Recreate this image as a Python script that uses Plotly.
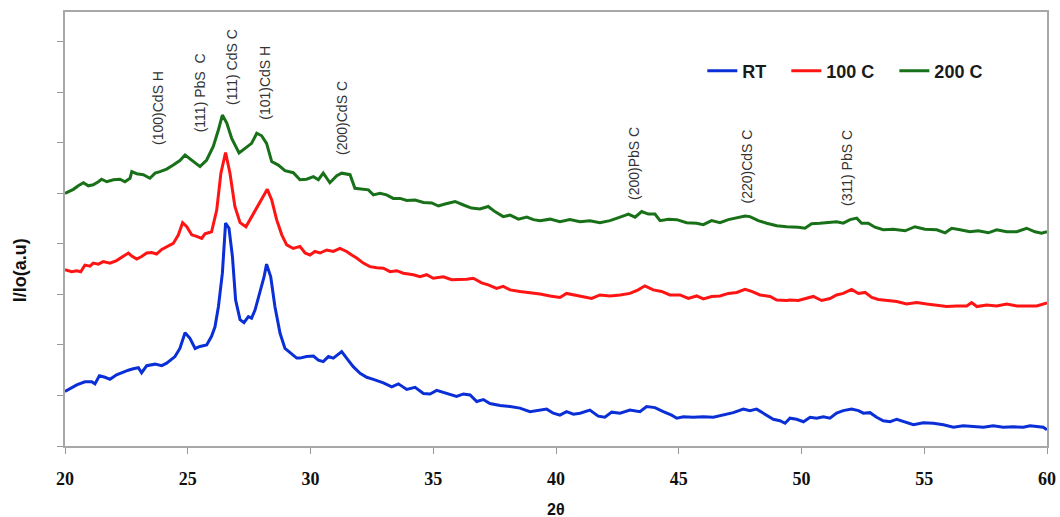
import plotly.graph_objects as go

# ---- data (2θ in degrees, intensity in offset arbitrary units) ----
rt_x = [20.0, 20.48, 20.81, 21.09, 21.22, 21.40, 21.63, 21.83, 22.10, 22.38, 22.58, 22.78, 22.99,
        23.12, 23.33, 23.67, 23.94, 24.14, 24.48, 24.68, 24.89, 25.09, 25.30, 25.50, 25.77, 25.97,
        26.11, 26.25, 26.41, 26.54, 26.68, 26.82, 26.95, 27.13, 27.29, 27.47, 27.60, 27.74, 27.94,
        28.11, 28.21, 28.38, 28.55, 28.76, 28.96, 29.23, 29.44,
        29.57, 29.84, 30.12, 30.32, 30.52, 30.73, 30.93, 31.13, 31.27, 31.47, 31.74, 32.02, 32.29,
        32.56, 32.97, 33.31, 33.58, 33.92, 34.26, 34.60, 34.87, 35.14, 35.55, 35.95, 36.23, 36.50,
        36.77, 37.04, 37.31, 37.72, 38.13, 38.53, 38.94, 39.21,
        39.35, 39.62, 39.89, 40.16, 40.43, 40.71, 40.98, 41.38, 41.72, 41.99, 42.27, 42.61, 43.01,
        43.42, 43.69, 44.03, 44.37, 44.71, 44.92, 45.19, 45.59, 46.00, 46.41, 46.82, 47.22, 47.63,
        47.90, 48.17, 48.45, 48.85, 49.12, 49.33,
        49.53, 49.80, 50.08, 50.35, 50.62, 50.89, 51.16, 51.43, 51.70, 52.04, 52.32, 52.52, 52.79,
        53.06, 53.33, 53.61, 53.88, 54.22, 54.56, 54.96, 55.37, 55.78, 56.19, 56.59, 57.00, 57.41,
        57.81, 58.22, 58.63, 59.04, 59.31, 59.65, 59.85, 60.0]
rt_y = [1.08, 1.21, 1.27, 1.27, 1.23, 1.39, 1.36, 1.32, 1.41, 1.47, 1.50, 1.53, 1.55,
        1.45, 1.59, 1.62, 1.59, 1.64, 1.77, 1.93, 2.24, 2.13, 1.93, 1.97, 2.00, 2.17,
        2.36, 2.76, 3.42, 4.41, 4.31, 3.75, 2.89, 2.50, 2.44, 2.56, 2.53, 2.69, 3.06,
        3.35, 3.60, 3.35, 2.76, 2.23, 1.93, 1.83, 1.74,
        1.74, 1.77, 1.78, 1.70, 1.67, 1.77, 1.74, 1.82, 1.87, 1.74, 1.57, 1.44, 1.36,
        1.32, 1.25, 1.17, 1.23, 1.12, 1.16, 1.04, 1.03, 1.10, 1.04, 0.98, 1.03, 1.01,
        0.88, 0.92, 0.84, 0.80, 0.78, 0.75, 0.68, 0.70,
        0.71, 0.73, 0.65, 0.61, 0.68, 0.63, 0.65, 0.71, 0.59, 0.57, 0.67, 0.65, 0.71,
        0.68, 0.78, 0.76, 0.68, 0.61, 0.55, 0.58, 0.57, 0.58, 0.57, 0.61, 0.66, 0.73,
        0.70, 0.73, 0.65, 0.53, 0.50, 0.45,
        0.55, 0.53, 0.48, 0.57, 0.55, 0.58, 0.55, 0.65, 0.70, 0.73, 0.70, 0.65, 0.66,
        0.57, 0.50, 0.48, 0.53, 0.48, 0.42, 0.46, 0.45, 0.42, 0.37, 0.40, 0.38, 0.37,
        0.40, 0.37, 0.38, 0.37, 0.40, 0.38, 0.37, 0.32]

c100_x = [20.0, 20.27, 20.48, 20.64, 20.81, 21.02, 21.15, 21.36, 21.56, 21.83, 22.10, 22.38, 22.58,
          22.72, 22.92, 23.12, 23.33, 23.53, 23.73, 23.94, 24.21, 24.41, 24.62, 24.79, 24.96, 25.16,
          25.36, 25.57, 25.70, 25.97, 26.18, 26.35, 26.54, 26.72, 26.92, 27.13, 27.37, 27.60, 27.88,
          28.08, 28.24, 28.42, 28.62, 28.83, 29.03, 29.30,
          29.57, 29.78, 29.98, 30.18, 30.39, 30.66, 30.93, 31.20, 31.47, 31.68, 31.88, 32.15, 32.42,
          32.70, 32.97, 33.24, 33.51, 33.78, 34.19, 34.46, 34.73, 35.00, 35.41, 35.75, 36.09, 36.36,
          36.63, 36.97, 37.24, 37.58, 37.85, 38.13, 38.53, 38.94,
          39.35, 39.76, 40.16, 40.43, 40.71, 41.11, 41.45, 41.79, 42.20, 42.61, 43.01, 43.35, 43.62,
          43.96, 44.30, 44.64, 45.05, 45.39, 45.73, 46.00, 46.34, 46.68, 47.02, 47.36, 47.70, 47.97,
          48.31, 48.72, 48.99, 49.40,
          49.53, 49.87, 50.14, 50.48, 50.82, 51.16, 51.43, 51.70, 52.04, 52.32, 52.59, 52.86, 53.13,
          53.47, 53.88, 54.28, 54.69, 55.10, 55.51, 55.91, 56.32, 56.73, 56.93, 57.14, 57.54, 57.95,
          58.36, 58.77, 59.17, 59.58, 60.0]
c100_y = [3.49, 3.45, 3.47, 3.45, 3.58, 3.56, 3.62, 3.60, 3.65, 3.62, 3.67, 3.75, 3.82,
          3.76, 3.70, 3.75, 3.82, 3.83, 3.80, 3.89, 3.95, 4.01, 4.18, 4.42, 4.34, 4.18,
          4.15, 4.11, 4.20, 4.24, 4.67, 5.40, 5.81, 5.40, 4.74, 4.42, 4.34, 4.54, 4.77,
          4.97, 5.08, 4.87, 4.48, 4.18, 3.98, 3.91,
          3.95, 3.82, 3.78, 3.85, 3.82, 3.88, 3.85, 3.91, 3.85, 3.78, 3.72, 3.62, 3.55,
          3.53, 3.52, 3.45, 3.47, 3.42, 3.39, 3.35, 3.39, 3.32, 3.35, 3.29, 3.29, 3.30,
          3.32, 3.23, 3.19, 3.12, 3.16, 3.09, 3.06, 3.04,
          3.01, 2.97, 2.94, 3.02, 2.99, 2.96, 2.92, 2.99, 2.97, 2.99, 3.02, 3.09, 3.17,
          3.09, 3.06, 2.99, 2.99, 2.92, 2.97, 2.91, 2.96, 2.97, 3.02, 3.04, 3.10, 3.06,
          2.99, 2.96, 2.89, 2.88,
          2.89, 2.88, 2.92, 2.96, 2.88, 2.92, 2.99, 3.02, 3.10, 3.02, 3.04, 2.94, 2.90,
          2.88, 2.86, 2.81, 2.84, 2.81, 2.79, 2.76, 2.77, 2.77, 2.84, 2.76, 2.79, 2.77,
          2.81, 2.77, 2.77, 2.77, 2.83]

c200_x = [20.0, 20.34, 20.54, 20.75, 20.95, 21.15, 21.36, 21.49, 21.70, 21.97, 22.24, 22.44, 22.65,
          22.72, 22.92, 23.19, 23.46, 23.67, 23.87, 24.14, 24.41, 24.68, 24.89, 25.16, 25.50, 25.77,
          26.04, 26.25, 26.41, 26.59, 26.79, 27.09, 27.33, 27.60, 27.81, 28.01, 28.21, 28.42, 28.69,
          28.96, 29.30,
          29.57, 29.84, 30.12, 30.32, 30.52, 30.79, 31.07, 31.27, 31.61, 31.81, 32.08, 32.36, 32.56,
          32.83, 33.10, 33.37, 33.65, 33.92, 34.26, 34.60, 34.94, 35.21, 35.48, 35.89, 36.23, 36.56,
          36.90, 37.24, 37.51, 37.85, 38.13, 38.47, 38.81, 39.08,
          39.35, 39.76, 40.16, 40.57, 40.98, 41.38, 41.79, 42.20, 42.61, 42.95, 43.22, 43.49, 43.76,
          44.03, 44.24, 44.58, 44.92, 45.32, 45.73, 46.00, 46.34, 46.68, 47.02, 47.36, 47.70, 47.90,
          48.24, 48.58, 48.99, 49.40,
          49.53, 49.87, 50.14, 50.41, 50.75, 51.09, 51.43, 51.70, 51.98, 52.25, 52.45, 52.72, 52.99,
          53.33, 53.74, 54.22, 54.62, 55.03, 55.51, 55.85, 56.12, 56.46, 56.86, 57.20, 57.61, 57.95,
          58.36, 58.77, 59.17, 59.51, 59.78, 60.0]
c200_y = [5.00, 5.08, 5.15, 5.21, 5.15, 5.17, 5.23, 5.28, 5.23, 5.27, 5.28, 5.23, 5.30,
          5.43, 5.39, 5.37, 5.30, 5.40, 5.43, 5.48, 5.56, 5.65, 5.76, 5.66, 5.53, 5.66,
          5.93, 6.26, 6.55, 6.39, 6.09, 5.80, 5.89, 5.99, 6.19, 6.14, 5.99, 5.63, 5.56,
          5.45, 5.41,
          5.27, 5.28, 5.33, 5.27, 5.40, 5.21, 5.35, 5.40, 5.37, 5.10, 5.08, 5.07, 4.97,
          5.00, 4.97, 4.90, 4.90, 4.86, 4.87, 4.82, 4.81, 4.75, 4.79, 4.84, 4.77, 4.71,
          4.69, 4.74, 4.64, 4.54, 4.57, 4.49, 4.53, 4.48,
          4.46, 4.49, 4.44, 4.48, 4.44, 4.46, 4.42, 4.46, 4.53, 4.59, 4.53, 4.64, 4.59,
          4.59, 4.46, 4.49, 4.48, 4.42, 4.41, 4.38, 4.46, 4.42, 4.48, 4.51, 4.55, 4.54,
          4.46, 4.41, 4.36, 4.34,
          4.34, 4.33, 4.31, 4.40, 4.41, 4.42, 4.44, 4.41, 4.48, 4.51, 4.41, 4.41, 4.33,
          4.28, 4.29, 4.26, 4.34, 4.29, 4.28, 4.22, 4.31, 4.28, 4.24, 4.26, 4.22, 4.28,
          4.24, 4.24, 4.31, 4.24, 4.21, 4.24]

series_names = ["RT", "100 C", "200 C"]
series_colors = ["#0a2fd6", "#ff1414", "#187018"]

peak_labels = ["(100)CdS H", "(111) PbS  C", "(111) CdS C", "(101)CdS H", "(200)CdS C",
               "(200)PbS C", "(220)CdS C", "(311) PbS C"]
peak_x = [23.79, 25.5, 26.8, 28.15, 31.28, 43.2, 47.8, 51.85]
peak_label_y = [5.92, 6.16, 6.71, 6.42, 5.72, 4.83, 4.77, 4.71]

x_ticks = [20, 25, 30, 35, 40, 45, 50, 55, 60]

NB = "\u00a0"
fig = go.Figure()
for xs, ys, name, col in zip([rt_x, c100_x, c200_x], [rt_y, c100_y, c200_y],
                             series_names, series_colors):
    fig.add_trace(go.Scatter(x=xs, y=ys, mode="lines", name=name + NB * 3,
                             line=dict(color=col, width=3)))

for lab, px_, py_ in zip(peak_labels, peak_x, peak_label_y):
    fig.add_annotation(x=px_, y=py_, text=lab, textangle=-90, showarrow=False,
                       xanchor="center", yanchor="bottom",
                       font=dict(family="Liberation Sans, Arial", size=14, color="#333333"))

fig.add_annotation(xref="paper", yref="paper", x=0.5, y=-0.147, text="2θ", showarrow=False,
                   xanchor="center", yanchor="middle",
                   font=dict(family="Liberation Sans, Arial", size=16, color="#111111",
                             weight="bold"))
fig.add_annotation(xref="paper", yref="paper", x=-0.0458, y=0.405, text="I/Io(a.u)",
                   textangle=-90, showarrow=False, xanchor="center", yanchor="middle",
                   font=dict(family="Liberation Sans, Arial", size=18, color="#111111",
                             weight="bold"))

fig.update_layout(
    width=1060, height=517,
    margin=dict(l=65, r=13, t=12, b=71, autoexpand=False),
    paper_bgcolor="white", plot_bgcolor="white",
    showlegend=True,
    legend=dict(orientation="h", x=0.649, y=0.864, xanchor="left", yanchor="middle",
                font=dict(family="Liberation Sans, Arial", size=18, color="#1a1a1a",
                          weight="bold"),
                bgcolor="rgba(0,0,0,0)"),
    xaxis=dict(range=[20, 60], tickvals=x_ticks, ticks="outside", ticklen=6,
               tickcolor="#999999", showgrid=False, zeroline=False, automargin=False,
               showline=True, linecolor="#a8a8a8", linewidth=2, mirror=True,
               tickfont=dict(family="Liberation Serif, Times New Roman", size=18,
                             color="#111111", weight="bold"),
               ticklabelstandoff=9),
    yaxis=dict(range=[0, 8.59], dtick=1, tick0=0, ticks="outside", ticklen=6,
               tickcolor="#999999", showticklabels=False, showgrid=False, zeroline=False,
               automargin=False,
               showline=True, linecolor="#a8a8a8", linewidth=2, mirror=True),
)

fig.write_html("out.html")
